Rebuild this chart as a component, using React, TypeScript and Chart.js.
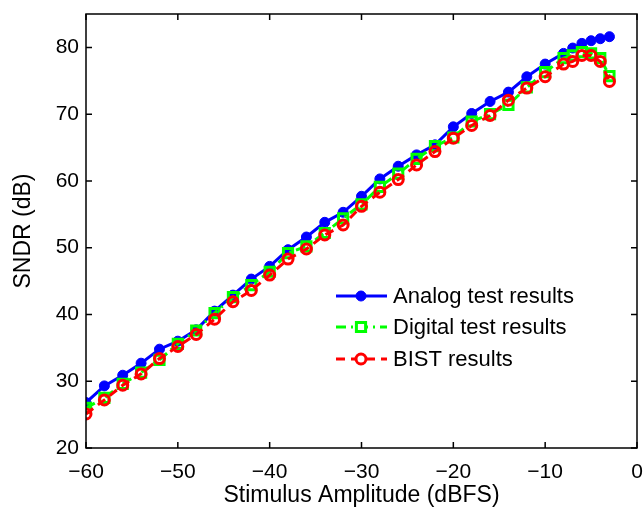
import React, { useEffect, useRef } from "react";
import { Chart, registerables } from "chart.js";

Chart.register(...registerables);

const stimulusDbfs = [
  -60, -58, -56, -54, -52, -50, -48, -46, -44, -42, -40, -38, -36, -34, -32, -30,
  -28, -26, -24, -22, -20, -18, -16, -14, -12, -10, -8, -7, -6, -5, -4, -3,
];
const analogSndr = [
  26.8, 29.3, 30.9, 32.7, 34.8, 36.0, 37.7, 40.5, 42.9, 45.3, 47.2, 49.7, 51.6, 53.8, 55.3, 57.7,
  60.3, 62.2, 63.9, 65.4, 68.1, 70.1, 71.9, 73.3, 75.6, 77.5, 79.1, 79.9, 80.6, 81.0, 81.3, 81.6,
];
const digitalSndr = [
  26.0, 27.5, 29.6, 31.3, 33.2, 35.6, 37.6, 40.2, 42.6, 44.4, 46.4, 49.2, 50.2, 52.2, 54.4, 56.5,
  59.1, 61.1, 63.3, 65.2, 66.5, 68.9, 70.0, 71.4, 74.0, 76.3, 78.4, 78.8, 79.3, 79.1, 78.4, 75.7,
];
const bistSndr = [
  25.1, 27.2, 29.4, 31.1, 33.4, 35.2, 37.0, 39.3, 41.9, 43.6, 45.9, 48.3, 49.8, 51.9, 53.4, 56.2,
  58.3, 60.2, 62.4, 64.4, 66.4, 68.3, 69.8, 72.1, 73.9, 75.6, 77.5, 77.9, 78.8, 78.8, 77.9, 74.9,
];
const seriesLabels = ["Analog test results", "Digital test results", "BIST results"];
const xTicks = [-60, -50, -40, -30, -20, -10, 0];
const yTicks = [20, 30, 40, 50, 60, 70, 80];
const xTitle = "Stimulus Amplitude (dBFS)";
const yTitle = "SNDR (dB)";

const FONT = "'Liberation Sans', Arial, Helvetica, sans-serif";

const toPoints = (ys: number[]) => stimulusDbfs.map((x, i) => ({ x, y: ys[i] }));
const fmt = (v: number) => (v < 0 ? "\u2212" + Math.abs(v) : String(v));

const styles = [
  { color: "#0000ff", dash: [] as number[], pointStyle: "circle", radius: 5, fill: "#0000ff", pbw: 1 },
  { color: "#00ff00", dash: [10, 5, 2, 5], pointStyle: "rect", radius: 6.5, fill: "rgba(0,0,0,0)", pbw: 3 },
  { color: "#ff0000", dash: [9, 6], pointStyle: "circle", radius: 5, fill: "rgba(0,0,0,0)", pbw: 3 },
];

const framePlugin = {
  id: "frameAndLegend",
  afterDraw(chart: any) {
    const { ctx, chartArea } = chart;
    const { left, right, top, bottom } = chartArea;
    const xs = chart.scales.x;
    const ys = chart.scales.y;
    ctx.save();
    ctx.strokeStyle = "#000";
    ctx.lineWidth = 1.5;
    ctx.setLineDash([]);
    ctx.strokeRect(left, top, right - left, bottom - top);
    const tl = 6;
    ctx.beginPath();
    xTicks.forEach((v) => {
      const px = xs.getPixelForValue(v);
      ctx.moveTo(px, bottom);
      ctx.lineTo(px, bottom - tl);
      ctx.moveTo(px, top);
      ctx.lineTo(px, top + tl);
    });
    yTicks.forEach((v) => {
      const py = ys.getPixelForValue(v);
      ctx.moveTo(left, py);
      ctx.lineTo(left + tl, py);
      ctx.moveTo(right, py);
      ctx.lineTo(right - tl, py);
    });
    ctx.stroke();

    // legend
    const lx0 = 336;
    const lx1 = 387;
    const mx = 361;
    const rows = [296, 327, 359];
    seriesLabels.forEach((label, i) => {
      const s = styles[i];
      const y = rows[i];
      ctx.strokeStyle = s.color;
      ctx.lineWidth = 3;
      ctx.setLineDash(s.dash);
      ctx.beginPath();
      ctx.moveTo(lx0, y);
      ctx.lineTo(lx1, y);
      ctx.stroke();
      ctx.setLineDash([]);
      ctx.lineWidth = s.pbw;
      ctx.fillStyle = s.fill;
      ctx.strokeStyle = s.color;
      ctx.beginPath();
      if (s.pointStyle === "rect") {
        const h = s.radius * Math.SQRT1_2;
        ctx.rect(mx - h, y - h, 2 * h, 2 * h);
        ctx.fillStyle = "#ffffff";
        ctx.fill();
      } else {
        ctx.arc(mx, y, s.radius, 0, Math.PI * 2);
        if (i === 0) ctx.fill();
        else {
          ctx.fillStyle = "#ffffff";
          ctx.fill();
        }
      }
      ctx.stroke();
      ctx.fillStyle = "#000";
      ctx.font = `22px ${FONT}`;
      ctx.textAlign = "left";
      ctx.textBaseline = "middle";
      ctx.fillText(label, 393, y + 1);
    });
    ctx.restore();
  },
};

export default function App() {
  const ref = useRef<HTMLCanvasElement | null>(null);
  useEffect(() => {
    if (!ref.current) return;
    const seriesData = [analogSndr, digitalSndr, bistSndr];
    const chart = new Chart(ref.current, {
      type: "line",
      data: {
        datasets: seriesData.map((d, i) => ({
          label: seriesLabels[i],
          data: toPoints(d),
          borderColor: styles[i].color,
          backgroundColor: styles[i].fill,
          borderWidth: 3,
          borderDash: styles[i].dash,
          pointStyle: styles[i].pointStyle as any,
          pointRadius: styles[i].radius,
          pointBorderWidth: styles[i].pbw,
          pointBorderColor: styles[i].color,
          pointBackgroundColor: styles[i].fill,
          tension: 0,
          fill: false,
          order: 3 - i,
        })),
      },
      options: {
        animation: false,
        responsive: false,
        events: [],
        layout: { autoPadding: false, padding: { left: 0, top: 14, right: 7, bottom: 0 } },
        plugins: { legend: { display: false }, tooltip: { enabled: false } },
        scales: {
          x: {
            type: "linear",
            min: -60,
            max: 0,
            grid: { display: false, drawTicks: false },
            border: { display: false },
            afterBuildTicks: (s: any) => {
              s.ticks = xTicks.map((v) => ({ value: v }));
            },
            afterFit: (s: any) => {
              s.height = 65;
              s.paddingLeft = 0;
              s.paddingRight = 0;
            },
            ticks: {
              padding: 12,
              color: "#000",
              maxRotation: 0,
              autoSkip: false,
              font: { family: FONT, size: 21 },
              callback: (v: any) => fmt(Number(v)),
            },
            title: {
              display: true,
              text: xTitle,
              color: "#000",
              font: { family: FONT, size: 23 },
              padding: { top: 0, bottom: 4 },
            },
          },
          y: {
            type: "linear",
            min: 20,
            max: 85,
            grid: { display: false, drawTicks: false },
            border: { display: false },
            afterBuildTicks: (s: any) => {
              s.ticks = yTicks.map((v) => ({ value: v }));
            },
            afterFit: (s: any) => {
              s.width = 86;
              s.paddingTop = 0;
              s.paddingBottom = 0;
            },
            ticks: {
              padding: 7,
              color: "#000",
              autoSkip: false,
              font: { family: FONT, size: 21 },
              callback: (v: any) => String(v),
            },
            title: {
              display: true,
              text: yTitle,
              color: "#000",
              font: { family: FONT, size: 23 },
              padding: { top: 10, bottom: 0 },
            },
          },
        },
      },
      plugins: [framePlugin],
    });
    return () => chart.destroy();
  }, []);
  return (
    <div style={{ position: "fixed", left: 0, top: 0, width: 644, height: 513, background: "#fff" }}>
      <canvas ref={ref} width={644} height={513} style={{ display: "block" }} />
    </div>
  );
}
